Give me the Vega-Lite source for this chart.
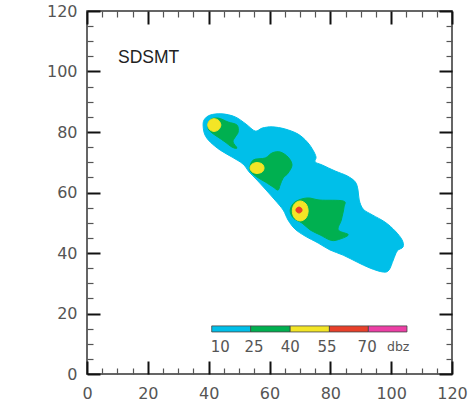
{
  "$schema": "https://vega.github.io/schema/vega-lite/v6.json",
  "width": 365,
  "height": 363,
  "autosize": {"type": "none"},
  "padding": {"left": 87, "top": 11, "right": 18, "bottom": 27},
  "background": "white",
  "config": {"view": {"stroke": "#333", "strokeWidth": 1.5}},
  "datasets": {
    "contours": [
      {"id": "c1", "i": 0, "x": 38.5, "y": 84.0},
      {"id": "c1", "i": 1, "x": 40.5, "y": 85.6},
      {"id": "c1", "i": 2, "x": 44.4, "y": 86.0},
      {"id": "c1", "i": 3, "x": 48.7, "y": 85.0},
      {"id": "c1", "i": 4, "x": 52.3, "y": 82.6},
      {"id": "c1", "i": 5, "x": 55.3, "y": 80.3},
      {"id": "c1", "i": 6, "x": 57.6, "y": 81.3},
      {"id": "c1", "i": 7, "x": 60.9, "y": 81.7},
      {"id": "c1", "i": 8, "x": 65.1, "y": 81.0},
      {"id": "c1", "i": 9, "x": 69.4, "y": 79.3},
      {"id": "c1", "i": 10, "x": 72.4, "y": 76.7},
      {"id": "c1", "i": 11, "x": 74.3, "y": 74.0},
      {"id": "c1", "i": 12, "x": 75.3, "y": 71.7},
      {"id": "c1", "i": 13, "x": 75.0, "y": 70.1},
      {"id": "c1", "i": 14, "x": 77.3, "y": 69.1},
      {"id": "c1", "i": 15, "x": 81.6, "y": 67.1},
      {"id": "c1", "i": 16, "x": 85.5, "y": 65.5},
      {"id": "c1", "i": 17, "x": 88.2, "y": 63.5},
      {"id": "c1", "i": 18, "x": 89.1, "y": 60.8},
      {"id": "c1", "i": 19, "x": 89.5, "y": 57.5},
      {"id": "c1", "i": 20, "x": 90.8, "y": 54.5},
      {"id": "c1", "i": 21, "x": 93.8, "y": 52.6},
      {"id": "c1", "i": 22, "x": 98.0, "y": 50.2},
      {"id": "c1", "i": 23, "x": 101.3, "y": 47.3},
      {"id": "c1", "i": 24, "x": 103.6, "y": 44.3},
      {"id": "c1", "i": 25, "x": 103.9, "y": 42.0},
      {"id": "c1", "i": 26, "x": 102.0, "y": 40.7},
      {"id": "c1", "i": 27, "x": 100.7, "y": 37.7},
      {"id": "c1", "i": 28, "x": 99.3, "y": 34.4},
      {"id": "c1", "i": 29, "x": 97.4, "y": 33.7},
      {"id": "c1", "i": 30, "x": 93.1, "y": 35.0},
      {"id": "c1", "i": 31, "x": 88.8, "y": 37.0},
      {"id": "c1", "i": 32, "x": 84.2, "y": 39.3},
      {"id": "c1", "i": 33, "x": 79.9, "y": 41.0},
      {"id": "c1", "i": 34, "x": 76.0, "y": 43.3},
      {"id": "c1", "i": 35, "x": 71.7, "y": 45.6},
      {"id": "c1", "i": 36, "x": 68.4, "y": 47.9},
      {"id": "c1", "i": 37, "x": 66.1, "y": 50.9},
      {"id": "c1", "i": 38, "x": 64.5, "y": 54.2},
      {"id": "c1", "i": 39, "x": 61.8, "y": 57.5},
      {"id": "c1", "i": 40, "x": 58.9, "y": 60.8},
      {"id": "c1", "i": 41, "x": 55.9, "y": 64.1},
      {"id": "c1", "i": 42, "x": 53.3, "y": 66.8},
      {"id": "c1", "i": 43, "x": 51.3, "y": 69.4},
      {"id": "c1", "i": 44, "x": 47.7, "y": 71.7},
      {"id": "c1", "i": 45, "x": 43.8, "y": 74.0},
      {"id": "c1", "i": 46, "x": 40.5, "y": 76.7},
      {"id": "c1", "i": 47, "x": 38.8, "y": 79.0},
      {"id": "c1", "i": 48, "x": 38.2, "y": 81.7},

      {"id": "g1", "i": 0, "x": 40.5, "y": 84.0},
      {"id": "g1", "i": 1, "x": 43.1, "y": 84.6},
      {"id": "g1", "i": 2, "x": 46.4, "y": 83.3},
      {"id": "g1", "i": 3, "x": 49.3, "y": 82.3},
      {"id": "g1", "i": 4, "x": 49.7, "y": 80.0},
      {"id": "g1", "i": 5, "x": 48.7, "y": 78.3},
      {"id": "g1", "i": 6, "x": 48.0, "y": 76.7},
      {"id": "g1", "i": 7, "x": 49.3, "y": 74.7},
      {"id": "g1", "i": 8, "x": 47.7, "y": 75.0},
      {"id": "g1", "i": 9, "x": 45.4, "y": 76.7},
      {"id": "g1", "i": 10, "x": 43.1, "y": 78.3},
      {"id": "g1", "i": 11, "x": 41.1, "y": 79.7},
      {"id": "g1", "i": 12, "x": 39.8, "y": 81.3},

      {"id": "g2", "i": 0, "x": 54.6, "y": 70.7},
      {"id": "g2", "i": 1, "x": 58.6, "y": 71.4},
      {"id": "g2", "i": 2, "x": 60.9, "y": 73.1},
      {"id": "g2", "i": 3, "x": 63.5, "y": 73.4},
      {"id": "g2", "i": 4, "x": 66.1, "y": 71.7},
      {"id": "g2", "i": 5, "x": 67.4, "y": 69.1},
      {"id": "g2", "i": 6, "x": 66.1, "y": 66.4},
      {"id": "g2", "i": 7, "x": 64.5, "y": 64.8},
      {"id": "g2", "i": 8, "x": 63.5, "y": 62.5},
      {"id": "g2", "i": 9, "x": 62.8, "y": 60.8},
      {"id": "g2", "i": 10, "x": 61.2, "y": 61.8},
      {"id": "g2", "i": 11, "x": 58.6, "y": 63.5},
      {"id": "g2", "i": 12, "x": 55.9, "y": 65.1},
      {"id": "g2", "i": 13, "x": 53.6, "y": 67.4},

      {"id": "g3", "i": 0, "x": 68.4, "y": 56.9},
      {"id": "g3", "i": 1, "x": 72.4, "y": 58.2},
      {"id": "g3", "i": 2, "x": 76.6, "y": 57.5},
      {"id": "g3", "i": 3, "x": 84.2, "y": 57.2},
      {"id": "g3", "i": 4, "x": 84.5, "y": 55.2},
      {"id": "g3", "i": 5, "x": 83.6, "y": 50.9},
      {"id": "g3", "i": 6, "x": 82.6, "y": 47.6},
      {"id": "g3", "i": 7, "x": 85.9, "y": 46.0},
      {"id": "g3", "i": 8, "x": 82.2, "y": 44.3},
      {"id": "g3", "i": 9, "x": 79.9, "y": 44.3},
      {"id": "g3", "i": 10, "x": 76.6, "y": 46.0},
      {"id": "g3", "i": 11, "x": 73.4, "y": 47.6},
      {"id": "g3", "i": 12, "x": 70.7, "y": 49.9},
      {"id": "g3", "i": 13, "x": 67.8, "y": 51.6},
      {"id": "g3", "i": 14, "x": 66.8, "y": 54.2},

      {"id": "y1", "i": 0, "x": 41.8, "y": 84.4},
      {"id": "y1", "i": 1, "x": 43.3, "y": 83.8},
      {"id": "y1", "i": 2, "x": 44.0, "y": 82.3},
      {"id": "y1", "i": 3, "x": 43.3, "y": 80.8},
      {"id": "y1", "i": 4, "x": 41.8, "y": 80.2},
      {"id": "y1", "i": 5, "x": 40.3, "y": 80.8},
      {"id": "y1", "i": 6, "x": 39.7, "y": 82.3},
      {"id": "y1", "i": 7, "x": 40.3, "y": 83.8},

      {"id": "y2", "i": 0, "x": 55.9, "y": 69.9},
      {"id": "y2", "i": 1, "x": 57.6, "y": 69.4},
      {"id": "y2", "i": 2, "x": 58.2, "y": 68.1},
      {"id": "y2", "i": 3, "x": 57.6, "y": 66.8},
      {"id": "y2", "i": 4, "x": 55.9, "y": 66.3},
      {"id": "y2", "i": 5, "x": 54.3, "y": 66.8},
      {"id": "y2", "i": 6, "x": 53.6, "y": 68.1},
      {"id": "y2", "i": 7, "x": 54.3, "y": 69.4},

      {"id": "y3", "i": 0, "x": 70.1, "y": 57.2},
      {"id": "y3", "i": 1, "x": 72.0, "y": 56.2},
      {"id": "y3", "i": 2, "x": 72.7, "y": 53.9},
      {"id": "y3", "i": 3, "x": 72.0, "y": 51.6},
      {"id": "y3", "i": 4, "x": 70.1, "y": 50.6},
      {"id": "y3", "i": 5, "x": 68.2, "y": 51.6},
      {"id": "y3", "i": 6, "x": 67.5, "y": 53.9},
      {"id": "y3", "i": 7, "x": 68.2, "y": 56.2},

      {"id": "r3", "i": 0, "x": 69.7, "y": 55.2},
      {"id": "r3", "i": 1, "x": 70.5, "y": 54.8},
      {"id": "r3", "i": 2, "x": 70.7, "y": 54.2},
      {"id": "r3", "i": 3, "x": 70.5, "y": 53.6},
      {"id": "r3", "i": 4, "x": 69.7, "y": 53.2},
      {"id": "r3", "i": 5, "x": 68.9, "y": 53.6},
      {"id": "r3", "i": 6, "x": 68.7, "y": 54.2},
      {"id": "r3", "i": 7, "x": 68.9, "y": 54.8}
    ],
    "bar": [
      {"band": "10", "x": 41.0, "x2": 53.8, "y": 13.9, "y2": 15.9},
      {"band": "25", "x": 53.8, "x2": 66.8, "y": 13.9, "y2": 15.9},
      {"band": "40", "x": 66.8, "x2": 79.7, "y": 13.9, "y2": 15.9},
      {"band": "55", "x": 79.7, "x2": 92.5, "y": 13.9, "y2": 15.9},
      {"band": "70", "x": 92.5, "x2": 105.2, "y": 13.9, "y2": 15.9}
    ],
    "barlabels": [
      {"t": "10", "x": 43.8, "y": 8.9},
      {"t": "25", "x": 54.9, "y": 8.9},
      {"t": "40", "x": 66.8, "y": 8.9},
      {"t": "55", "x": 78.9, "y": 8.9},
      {"t": "70", "x": 92.1, "y": 8.9}
    ],
    "unit": [{"t": "dbz", "x": 102.3, "y": 8.9}],
    "title": [{"t": "SDSMT", "x": 10.2, "y": 102.8}]
  },
  "layer": [
    {
      "data": {"name": "contours"},
      "transform": [{"filter": "datum.id === 'c1'"}],
      "mark": {"type": "line", "interpolate": "cardinal-closed", "fill": "#00bfe9", "stroke": "#00bfe9", "strokeWidth": 1},
      "encoding": {
        "x": {"field": "x", "type": "quantitative", "scale": {"domain": [0, 120], "nice": false, "zero": false},
          "axis": {"orient": "bottom", "values": [0,5,10,15,20,25,30,35,40,45,50,55,60,65,70,75,80,85,90,95,100,105,110,115,120],
            "title": null, "domain": false, "grid": false,
            "labelExpr": "datum.value % 20 === 0 ? datum.label : ''",
            "labelFont": "DejaVu Sans", "labelFontSize": 16, "labelColor": "#555", "labelPadding": 24,
            "labelFlush": false, "labelOverlap": false,
            "tickSize": {"condition": {"test": "datum.value % 20 === 0", "value": -13}, "value": -6},
            "tickWidth": {"condition": {"test": "datum.value % 20 === 0", "value": 2}, "value": 1.2},
            "tickColor": {"condition": {"test": "datum.value % 20 === 0", "value": "#111"}, "value": "#555"}}},
        "y": {"field": "y", "type": "quantitative", "scale": {"domain": [0, 120], "nice": false, "zero": false},
          "axis": {"orient": "left", "values": [0,5,10,15,20,25,30,35,40,45,50,55,60,65,70,75,80,85,90,95,100,105,110,115,120],
            "title": null, "domain": false, "grid": false,
            "labelExpr": "datum.value % 20 === 0 ? datum.label : ''",
            "labelFont": "DejaVu Sans", "labelFontSize": 16, "labelColor": "#555", "labelPadding": 23,
            "labelFlush": false, "labelOverlap": false,
            "tickSize": {"condition": {"test": "datum.value % 20 === 0", "value": -13}, "value": -6},
            "tickWidth": {"condition": {"test": "datum.value % 20 === 0", "value": 2}, "value": 1.2},
            "tickColor": {"condition": {"test": "datum.value % 20 === 0", "value": "#111"}, "value": "#555"}}},
        "detail": {"field": "id"},
        "order": {"field": "i", "type": "quantitative"}
      }
    },
    {
      "data": {"name": "contours"},
      "transform": [{"filter": "datum.id === 'g1' || datum.id === 'g2' || datum.id === 'g3'"}],
      "mark": {"type": "line", "interpolate": "cardinal-closed", "fill": "#00b050", "stroke": "#00b050", "strokeWidth": 1},
      "encoding": {
        "x": {"field": "x", "type": "quantitative", "axis": null},
        "y": {"field": "y", "type": "quantitative", "axis": null},
        "detail": {"field": "id"},
        "order": {"field": "i", "type": "quantitative"}
      }
    },
    {
      "data": {"name": "contours"},
      "transform": [{"filter": "datum.id === 'y1' || datum.id === 'y2' || datum.id === 'y3'"}],
      "mark": {"type": "line", "interpolate": "cardinal-closed", "fill": "#f3e526", "stroke": "#f3e526", "strokeWidth": 1},
      "encoding": {
        "x": {"field": "x", "type": "quantitative", "axis": null},
        "y": {"field": "y", "type": "quantitative", "axis": null},
        "detail": {"field": "id"},
        "order": {"field": "i", "type": "quantitative"}
      }
    },
    {
      "data": {"name": "contours"},
      "transform": [{"filter": "datum.id === 'r3'"}],
      "mark": {"type": "line", "interpolate": "cardinal-closed", "fill": "#e8402a", "stroke": "#e8402a", "strokeWidth": 1},
      "encoding": {
        "x": {"field": "x", "type": "quantitative", "axis": null},
        "y": {"field": "y", "type": "quantitative", "axis": null},
        "detail": {"field": "id"},
        "order": {"field": "i", "type": "quantitative"}
      }
    },
    {
      "data": {"name": "bar"},
      "mark": {"type": "rect", "stroke": "#444", "strokeWidth": 0.8},
      "encoding": {
        "x": {"field": "x", "type": "quantitative",
          "axis": {"orient": "top", "values": [0,5,10,15,20,25,30,35,40,45,50,55,60,65,70,75,80,85,90,95,100,105,110,115,120],
            "title": null, "domain": false, "grid": false, "labels": false,
            "tickSize": {"condition": {"test": "datum.value % 20 === 0", "value": -13}, "value": -6},
            "tickWidth": {"condition": {"test": "datum.value % 20 === 0", "value": 2}, "value": 1.2},
            "tickColor": {"condition": {"test": "datum.value % 20 === 0", "value": "#111"}, "value": "#555"}}},
        "x2": {"field": "x2"},
        "y": {"field": "y", "type": "quantitative",
          "axis": {"orient": "right", "values": [0,5,10,15,20,25,30,35,40,45,50,55,60,65,70,75,80,85,90,95,100,105,110,115,120],
            "title": null, "domain": false, "grid": false, "labels": false,
            "tickSize": {"condition": {"test": "datum.value % 20 === 0", "value": -13}, "value": -6},
            "tickWidth": {"condition": {"test": "datum.value % 20 === 0", "value": 2}, "value": 1.2},
            "tickColor": {"condition": {"test": "datum.value % 20 === 0", "value": "#111"}, "value": "#555"}}},
        "y2": {"field": "y2"},
        "fill": {"field": "band", "type": "nominal", "legend": null,
          "scale": {"domain": ["10", "25", "40", "55", "70"], "range": ["#00bfe9", "#00b050", "#f3e526", "#e8402a", "#ec3fa5"]}}
      }
    },
    {
      "data": {"name": "barlabels"},
      "mark": {"type": "text", "font": "DejaVu Sans", "fontSize": 15, "color": "#555", "align": "center", "baseline": "middle"},
      "encoding": {
        "x": {"field": "x", "type": "quantitative", "axis": null},
        "y": {"field": "y", "type": "quantitative", "axis": null},
        "text": {"field": "t"}
      }
    },
    {
      "data": {"name": "unit"},
      "mark": {"type": "text", "font": "DejaVu Sans", "fontSize": 12.5, "color": "#555", "align": "center", "baseline": "middle"},
      "encoding": {
        "x": {"field": "x", "type": "quantitative", "axis": null},
        "y": {"field": "y", "type": "quantitative", "axis": null},
        "text": {"field": "t"}
      }
    },
    {
      "data": {"name": "title"},
      "mark": {"type": "text", "font": "Liberation Sans", "fontSize": 17.5, "color": "#222", "align": "left", "baseline": "alphabetic"},
      "encoding": {
        "x": {"field": "x", "type": "quantitative", "axis": null},
        "y": {"field": "y", "type": "quantitative", "axis": null},
        "text": {"field": "t"}
      }
    }
  ],
  "resolve": {"axis": {"x": "independent", "y": "independent"}}
}
